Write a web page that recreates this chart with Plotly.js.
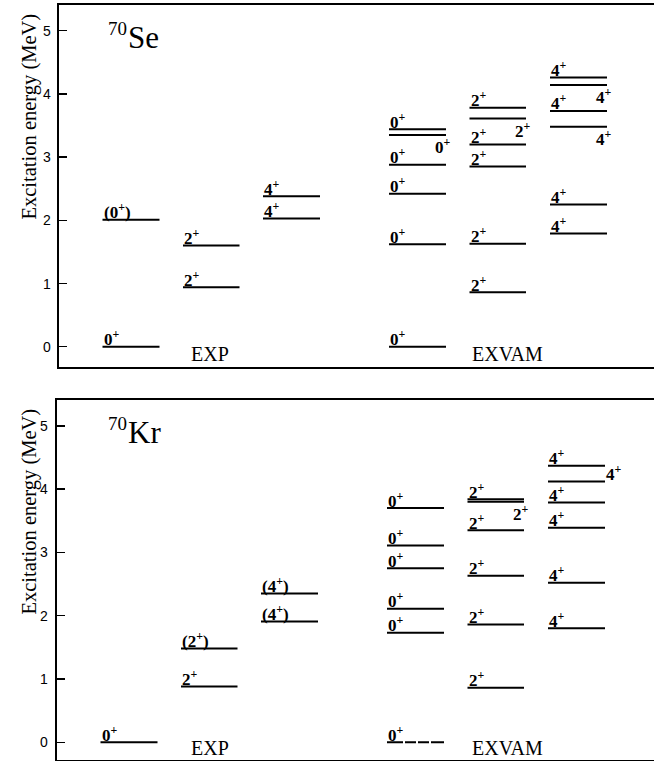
<!DOCTYPE html>
<html>
<head>
<meta charset="utf-8">
<script src="https://cdn.plot.ly/plotly-3.0.1.min.js"></script>
<style>
  html, body { margin: 0; padding: 0; overflow: hidden; background: #fff; }
</style>
</head>
<body>
<div id="chart"></div>
<script>
// Excitation energies (MeV) of the low-lying 0+, 2+ and 4+ states.

// ---- 70Se ----
const seExp0 = [0.00, 2.01];
const seExp0Spin = ['0+', '(0+)'];
const seExp2 = [0.94, 1.60];
const seExp2Spin = ['2+', '2+'];
const seExp4 = [2.03, 2.38];
const seExp4Spin = ['4+', '4+'];
const seVam0 = [0.00, 1.62, 2.42, 2.88, 3.35, 3.44];
const seVam2 = [0.86, 1.63, 2.85, 3.20, 3.61, 3.78];
const seVam4 = [1.79, 2.25, 3.48, 3.73, 4.14, 4.26];

// ---- 70Kr ----
const krExp0 = [0.00];
const krExp0Spin = ['0+'];
const krExp2 = [0.88, 1.48];
const krExp2Spin = ['2+', '(2+)'];
const krExp4 = [1.91, 2.35];
const krExp4Spin = ['(4+)', '(4+)'];
const krVam0 = [0.00, 1.73, 2.11, 2.75, 3.11, 3.70];
const krVam2 = [0.86, 1.86, 2.63, 3.35, 3.80, 3.84];
const krVam4 = [1.80, 2.52, 3.39, 3.79, 4.12, 4.37];

const massNumber = '70';
const elements = ['Se', 'Kr'];
const groupNames = ['EXP', 'EXVAM'];
const yTicks = [0, 1, 2, 3, 4, 5];
const yTitle = 'Excitation energy (MeV)';

// ---- where each spin label sits relative to its level ----
// 'a' = above the left end, 'b' = below the right end, 'e' = after the right end
const seVam0Place = ['a', 'a', 'a', 'a', 'b', 'a'];
const seVam2Place = ['a', 'a', 'a', 'a', 'b', 'a'];
const seVam4Place = ['a', 'a', 'b', 'a', 'b', 'a'];
const krVam0Place = ['a', 'a', 'a', 'a', 'a', 'a'];
const krVam2Place = ['a', 'a', 'a', 'a', 'b', 'a'];
const krVam4Place = ['a', 'a', 'a', 'a', 'e', 'a'];

// ---- geometry (page pixels) ----
const W = 660, H = 761;
const serif = 'Liberation Serif, Times New Roman, serif';
const sans = 'Liberation Sans, Arial, sans-serif';

// horizontal spans of the six level columns, measured from the left frame
const colSpan = [[43.5, 100.5], [124, 180.5], [204, 261], [330, 387], [410.5, 467], [491, 548]];

const panelGeom = [
  { left: 59, top: 5, bottom: 367, zero: 346.7, perMeV: 63.2 },
  { left: 57, top: 400, bottom: 760, zero: 742.3, perMeV: 63.3 }
];

const panelData = [
  {
    exp: [[seExp0, seExp0Spin], [seExp2, seExp2Spin], [seExp4, seExp4Spin]],
    vam: [[seVam0, '0+', seVam0Place], [seVam2, '2+', seVam2Place], [seVam4, '4+', seVam4Place]],
    dashedGround: false
  },
  {
    exp: [[krExp0, krExp0Spin], [krExp2, krExp2Spin], [krExp4, krExp4Spin]],
    vam: [[krVam0, '0+', krVam0Place], [krVam2, '2+', krVam2Place], [krVam4, '4+', krVam4Place]],
    dashedGround: true
  }
];

const px = x => x / W;
const py = y => 1 - y / H;

// "2+" -> "2<sup>+</sup>"
function spinHtml(s) {
  return s.replace(/(\d)\+/, '$1<sup>+</sup>');
}

const traces = [];
const annotations = [];
const layout = {
  width: W, height: H,
  margin: { l: 0, r: 0, t: 0, b: 0 },
  paper_bgcolor: '#fff', plot_bgcolor: '#fff',
  showlegend: false,
  annotations: annotations
};

function levelLines(energies, span, xa, ya, dash) {
  const xs = [], ys = [];
  energies.forEach(e => { xs.push(span[0], span[1], null); ys.push(e, e, null); });
  return {
    type: 'scatter', mode: 'lines', x: xs, y: ys, xaxis: xa, yaxis: ya,
    line: { color: '#000', width: 2, dash: dash || 'solid' },
    hoverinfo: 'skip', cliponaxis: false
  };
}

function spinLabel(text, e, span, place, xr, yr) {
  const base = {
    text: spinHtml(text), xref: xr, yref: yr, y: e, showarrow: false,
    font: { family: serif, size: 17, weight: 'bold', color: '#000' }
  };
  if (place === 'b') {
    return Object.assign(base, { x: span[1], xanchor: 'right', yanchor: 'top', xshift: 6.5, yshift: 2 });
  }
  if (place === 'e') {
    return Object.assign(base, { x: span[1], xanchor: 'left', yanchor: 'bottom', xshift: -1, yshift: -4.5 });
  }
  return Object.assign(base, { x: span[0], xanchor: 'left', yanchor: 'bottom', xshift: -1, yshift: -4.5 });
}

panelGeom.forEach((g, i) => {
  const n = i === 0 ? '' : String(i + 1);
  const xa = 'x' + n, ya = 'y' + n;
  const d = panelData[i];

  layout['xaxis' + n] = {
    domain: [px(g.left), 1], range: [0, W - g.left], anchor: ya,
    showline: true, mirror: true, linewidth: 2, linecolor: '#000',
    showticklabels: false, ticks: '', showgrid: false, zeroline: false, fixedrange: true
  };
  layout['yaxis' + n] = {
    domain: [py(g.bottom), py(g.top)],
    range: [(g.zero - g.bottom) / g.perMeV, (g.zero - g.top) / g.perMeV],
    anchor: xa,
    showline: true, mirror: true, linewidth: 2, linecolor: '#000',
    ticks: 'inside', ticklen: 8, tickwidth: 1.5, tickcolor: '#000',
    tickvals: yTicks, showticklabels: false,
    showgrid: false, zeroline: false, fixedrange: true
  };

  // energy tick labels, set close to the frame
  yTicks.forEach(v => annotations.push({
    text: String(v), xref: 'paper', yref: ya, x: px(g.left - 6.5), y: v,
    xanchor: 'right', yanchor: 'middle', showarrow: false,
    font: { family: sans, size: 14, color: '#000' }
  }));

  // experimental columns
  d.exp.forEach((col, c) => {
    traces.push(levelLines(col[0], colSpan[c], xa, ya));
    col[0].forEach((e, k) => annotations.push(spinLabel(col[1][k], e, colSpan[c], 'a', xa, ya)));
  });

  // EXVAM columns
  d.vam.forEach((col, c) => {
    const span = colSpan[c + 3];
    let energies = col[0];
    if (c === 0 && d.dashedGround) {
      traces.push(levelLines([energies[0]], span, xa, ya, '16px,2px,11px,2px,11px,2px,13px'));
      energies = energies.slice(1);
    }
    traces.push(levelLines(energies, span, xa, ya));
    col[0].forEach((e, k) => annotations.push(spinLabel(col[1], e, span, col[2][k], xa, ya)));
  });

  // nucleus name
  annotations.push({
    text: elements[i], xref: 'paper', yref: 'paper',
    x: px(125.5), y: py(g.zero - 290), xanchor: 'left', yanchor: 'bottom',
    showarrow: false, font: { family: serif, size: 31, color: '#000' }
  });
  annotations.push({
    text: massNumber, xref: 'paper', yref: 'paper',
    x: px(106), y: py(g.zero - 306), xanchor: 'left', yanchor: 'bottom',
    showarrow: false, font: { family: serif, size: 19, color: '#000' }
  });

  // group names under the ground states
  [209.5, 507].forEach((cx, k) => annotations.push({
    text: groupNames[k], xref: 'paper', yref: 'paper',
    x: px(cx), y: py(Math.min(g.zero + 20.6, H)), xanchor: 'center', yanchor: 'bottom',
    showarrow: false, font: { family: serif, size: 20, color: '#000' }
  }));

  // energy axis title
  annotations.push({
    text: yTitle, xref: 'paper', yref: 'paper',
    x: px(29), y: py(g.top + 111.5), textangle: -90,
    xanchor: 'center', yanchor: 'middle',
    showarrow: false, font: { family: serif, size: 20.5, color: '#000' }
  });
});

Plotly.newPlot('chart', traces, layout, { staticPlot: true, displayModeBar: false });
</script>
</body>
</html>
